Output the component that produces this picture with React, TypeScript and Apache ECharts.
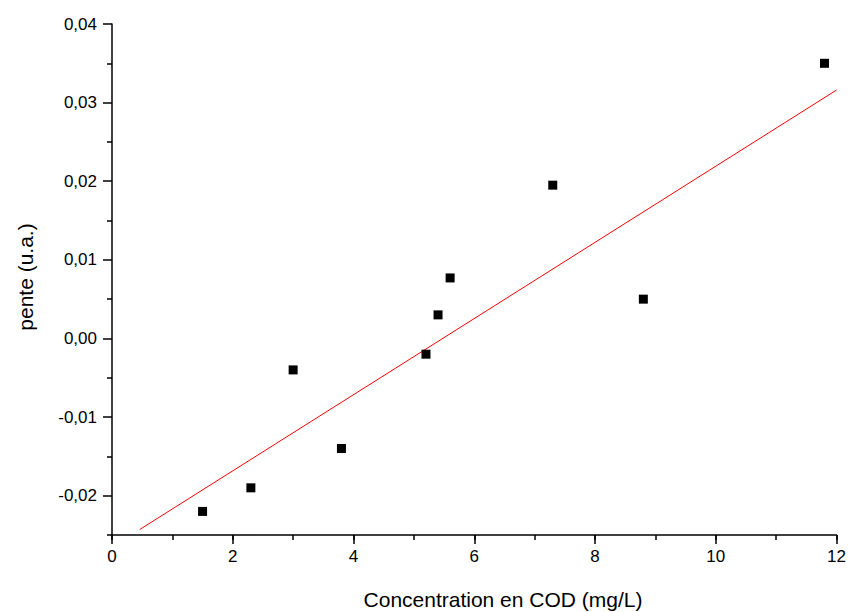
import React, { useEffect, useRef } from "react";
import * as echarts from "echarts";

const concentration = [1.5, 2.3, 3.0, 3.8, 5.2, 5.4, 5.6, 7.3, 8.8, 11.8];
const pente = [-0.022, -0.019, -0.004, -0.014, -0.002, 0.003, 0.0077, 0.0195, 0.005, 0.035];
const fitX = [0.46, 12];
const fitY = [-0.0243, 0.0316];
const yMajorTicks = [-0.02, -0.01, 0, 0.01, 0.02, 0.03, 0.04];
const yMinorTicks = [-0.025, -0.015, -0.005, 0.005, 0.015, 0.025, 0.035];
const xTitle = "Concentration en COD (mg/L)";
const yTitle = "pente (u.a.)";

const FONT = "'Liberation Sans', Arial, Helvetica, sans-serif";

export default function App() {
  const ref = useRef<HTMLDivElement>(null);
  useEffect(() => {
    if (!ref.current) return;
    const chart = echarts.init(ref.current, null, { renderer: "svg" });
    const axisLineStyle = { color: "#000", width: 1.5 };
    chart.setOption({
      animation: false,
      backgroundColor: "#fff",
      textStyle: { fontFamily: FONT },
      grid: { left: 112, right: 11, top: 24, bottom: 77, containLabel: false },
      xAxis: [
        {
          type: "value",
          min: 0,
          max: 12,
          interval: 2,
          position: "bottom",
          axisLine: { show: true, onZero: false, lineStyle: axisLineStyle },
          axisTick: { show: true, length: 9, lineStyle: { color: "#000", width: 1.5 } },
          axisLabel: { color: "#000", fontSize: 17, margin: 13, fontFamily: FONT },
          splitLine: { show: false },
        },
        {
          type: "value",
          min: 0,
          max: 12,
          interval: 1,
          position: "bottom",
          axisLine: { show: false, onZero: false },
          axisTick: { show: true, length: 5, lineStyle: { color: "#000", width: 1.5 } },
          axisLabel: { show: false },
          splitLine: { show: false },
        },
      ],
      yAxis: [
        {
          type: "value",
          min: -0.025,
          max: 0.04,
          interval: 0.005,
          position: "left",
          axisLine: { show: true, onZero: false, lineStyle: axisLineStyle },
          axisTick: {
            show: true,
            length: 9,
            customValues: yMajorTicks,
            lineStyle: { color: "#000", width: 1.5 },
          },
          axisLabel: {
            color: "#000",
            fontSize: 17,
            margin: 15,
            fontFamily: FONT,
            customValues: yMajorTicks,
            formatter: (v: number) => v.toFixed(2).replace(".", ","),
          },
          splitLine: { show: false },
        },
        {
          type: "value",
          min: -0.025,
          max: 0.04,
          interval: 0.005,
          position: "left",
          axisLine: { show: false, onZero: false },
          axisTick: {
            show: true,
            length: 5,
            customValues: yMinorTicks,
            lineStyle: { color: "#000", width: 1.5 },
          },
          axisLabel: { show: false },
          splitLine: { show: false },
        },
      ],
      graphic: [
        {
          type: "text",
          x: 503,
          y: 599,
          style: {
            text: xTitle,
            fontSize: 21,
            fontFamily: FONT,
            fill: "#000",
            textAlign: "center",
            textVerticalAlign: "middle",
          },
        },
        {
          type: "text",
          x: 25,
          y: 277,
          rotation: Math.PI / 2,
          style: {
            text: yTitle,
            fontSize: 21,
            fontFamily: FONT,
            fill: "#000",
            textAlign: "center",
            textVerticalAlign: "middle",
          },
        },
      ],
      series: [
        {
          type: "line",
          xAxisIndex: 0,
          yAxisIndex: 0,
          data: fitX.map((x, i) => [x, fitY[i]]),
          showSymbol: false,
          symbol: "none",
          lineStyle: { color: "#ff0000", width: 1 },
          z: 2,
        },
        {
          type: "scatter",
          xAxisIndex: 0,
          yAxisIndex: 0,
          data: concentration.map((x, i) => [x, pente[i]]),
          symbol: "rect",
          symbolSize: 9,
          itemStyle: { color: "#000", opacity: 1 },
          z: 3,
        },
      ],
    });
    return () => chart.dispose();
  }, []);
  return (
    <div
      ref={ref}
      style={{ position: "fixed", left: 0, top: 0, width: 849, height: 612, background: "#fff" }}
    />
  );
}
